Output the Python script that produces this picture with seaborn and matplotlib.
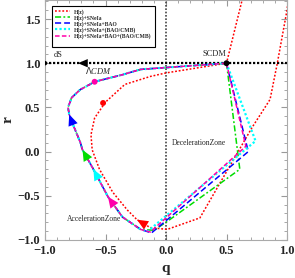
import matplotlib
matplotlib.use('Agg')
import matplotlib.pyplot as plt
from matplotlib.ticker import MultipleLocator
from matplotlib.lines import Line2D
import seaborn as sns

# labels of the five data combinations
labels = ['H(z)', 'H(z)+SNeIa', 'H(z)+SNeIa+BAO',
          'H(z)+SNeIa+(BAO/CMB)', 'H(z)+SNeIa+BAO+(BAO/CMB)']
colors = ['#ff0000', '#00dd00', '#0000ff', '#00ffff', '#ff00aa']

# left branch shared by the joint fits (bottom -> SCDM)
loop_q = [-0.21, -0.36, -0.48, -0.60, -0.69, -0.71, -0.77, -0.80, -0.81,
          -0.78, -0.71, -0.59, -0.36, -0.21, 0.50]
loop_r = [-0.88, -0.74, -0.51, -0.20, 0.02, 0.11, 0.31, 0.42, 0.50,
          0.61, 0.70, 0.79, 0.87, 0.93, 1.00]

# H(z) only
hz_q = [1.03, 1.00, 0.92, 0.86, 0.71, 0.28, 0.01, -0.13, -0.24, -0.32, -0.44,
        -0.55, -0.61, -0.62, -0.59, -0.50, -0.34, -0.13, 0.00, 0.50, 0.63, 0.66]
hz_r = [1.90, 1.60, 1.00, 0.59, 0.27, -0.75, -0.88, -0.86, -0.77, -0.66, -0.46,
        -0.20, 0.02, 0.19, 0.38, 0.56, 0.76, 0.85, 0.89, 1.00, 1.72, 1.90]

# right branch for each joint fit (SCDM -> corner -> bottom)
sn_q = [0.50, 0.61, 0.00, -0.10] + loop_q
sn_r = [1.00, -0.20, -0.80, -0.89] + loop_r
bao_q = [0.50, 0.68, -0.12] + loop_q
bao_r = [1.00, 0.00, -0.92] + loop_r
cmb_q = [0.50, 0.74, -0.15] + loop_q
cmb_r = [1.00, 0.12, -0.90] + loop_r
all_q = [0.50, 0.66, -0.13] + loop_q
all_r = [1.00, 0.06, -0.91] + loop_r

curves = [(hz_q, hz_r), (sn_q, sn_r), (bao_q, bao_r), (cmb_q, cmb_r), (all_q, all_r)]
styles = [dict(linestyle=(0, (1.2, 1.2)), linewidth=1.1),
          dict(linestyle=(0, (4, 1.5, 1.2, 1.5)), linewidth=1.1),
          dict(linestyle=(0, (4, 2)), linewidth=1.1),
          dict(linestyle=(0, (1, 1)), linewidth=1.6),
          dict(linestyle=(0, (3, 1.5)), linewidth=1.1)]

# direction arrows: (curve index, vertex of tail, vertex of head)
arrows = [(0, 7, 8), (1, 7, 8), (2, 9, 10), (3, 5, 6), (4, 4, 5)]

# present-day points
now_q = [-0.52, -0.59]
now_r = [0.55, 0.79]

sns.set_style('ticks')
plt.rcParams['font.family'] = ['Liberation Serif', 'DejaVu Serif']

fig = plt.figure(figsize=(2.95, 2.78), dpi=100)
ax = fig.add_axes([45 / 295, 38 / 278, 242 / 295, 240 / 278])

# reference lines
ax.axvline(0, color='#444444', linestyle=(0, (1, 1)), linewidth=1.2, zorder=1)
ax.plot([-1, 1], [1, 1], color='black', linestyle=(0, (1, 0.8)), linewidth=1.6, zorder=1)
ax.annotate('', xy=(-0.75, 1.0), xytext=(-0.62, 1.0),
            arrowprops=dict(arrowstyle='-|>,head_length=0.7,head_width=0.3',
                            color='black', lw=0, mutation_scale=10))

for (q, r), lab, c, st in zip(curves, labels, colors, styles):
    sns.lineplot(x=q, y=r, sort=False, estimator=None, color=c, label=lab,
                 ax=ax, zorder=3, **st)

for ci, i0, i1 in arrows:
    q, r = curves[ci]
    ax.annotate('', xy=(q[i1], r[i1]), xytext=(q[i0], r[i0]),
                arrowprops=dict(arrowstyle='-|>,head_length=0.8,head_width=0.35',
                                color=colors[ci], lw=0, mutation_scale=10,
                                shrinkA=0, shrinkB=0), zorder=5)

ax.scatter(now_q, now_r, color=[colors[0], colors[4]], s=18, zorder=6, linewidths=0)
ax.scatter([-1, 0.5], [1, 1], color='black', s=[10, 18], zorder=6, clip_on=True, linewidths=0)

ax.text(-0.93, 1.07, 'dS', fontsize=6)
ax.text(-0.67, 0.88, r'$\Lambda$CDM', fontsize=6, style='italic')
ax.text(0.30, 1.08, 'SCDM', fontsize=6)
ax.text(0.05, 0.08, 'DecelerationZone', fontsize=5.5)
ax.text(-0.82, -0.78, 'AccelerationZone', fontsize=5.5)

ax.set_xlim(-1, 1)
ax.set_ylim(-1, 1.715)
ax.xaxis.set_major_locator(MultipleLocator(0.5))
ax.yaxis.set_major_locator(MultipleLocator(0.5))
ax.xaxis.set_minor_locator(MultipleLocator(0.1))
ax.yaxis.set_minor_locator(MultipleLocator(0.1))
ax.tick_params(which='both', direction='in', top=True, right=True, color='#999999')
ax.tick_params(which='major', length=4, labelsize=9)
ax.tick_params(which='minor', length=2)
for lab in ax.get_xticklabels() + ax.get_yticklabels():
    lab.set_fontweight('bold')
for sp in ax.spines.values():
    sp.set_color('#aaaaaa')
    sp.set_linewidth(0.8)

ax.set_xlabel('q', fontsize=11, fontweight='bold', labelpad=4)
ax.set_ylabel('r', fontsize=11, fontweight='bold', labelpad=2)

handles, labs = ax.get_legend_handles_labels()
handles += [Line2D([], [], color='none')]
labs += [' ']
leg = ax.legend(handles, labs, loc='upper left', bbox_to_anchor=(0.029, 0.975),
                borderaxespad=0, fontsize=4.1, handlelength=2.6, labelspacing=0.05,
                handletextpad=0.8, borderpad=0.5, fancybox=False, framealpha=1)
leg.get_frame().set_edgecolor('black')
leg.get_frame().set_linewidth(0.8)
for t in leg.get_texts():
    t.set_fontweight('bold')

fig.savefig('out.png', dpi=100)
